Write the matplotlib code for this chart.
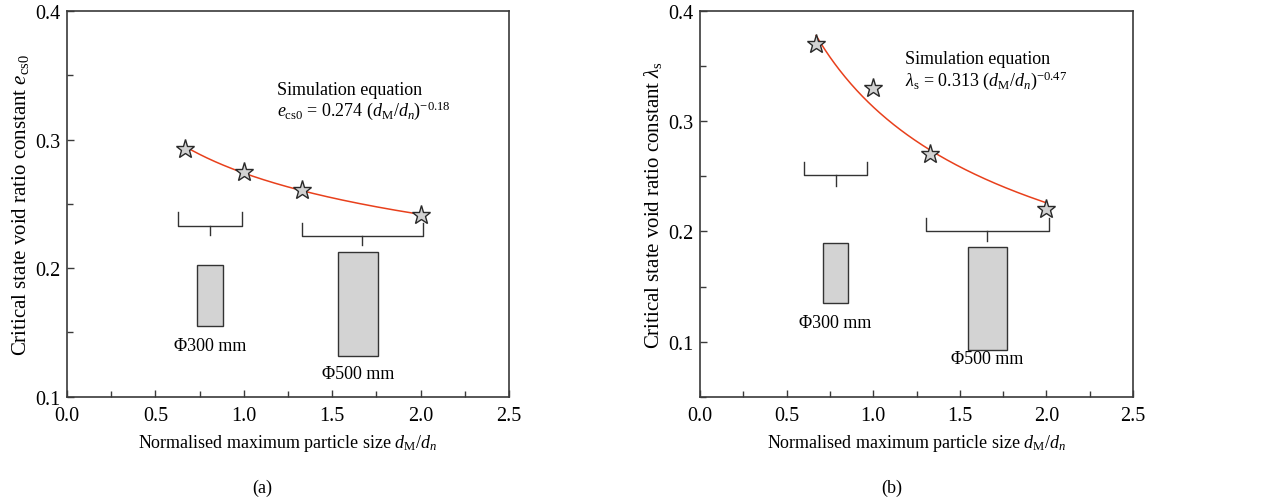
import numpy as np
import matplotlib

matplotlib.use("Agg")
import matplotlib.pyplot as plt
from matplotlib.patches import Rectangle
from matplotlib.ticker import MultipleLocator

plt.rcParams["font.family"] = ["Liberation Serif", "DejaVu Serif"]
plt.rcParams["mathtext.fontset"] = "custom"
plt.rcParams["mathtext.rm"] = "Liberation Serif"
plt.rcParams["mathtext.it"] = "Liberation Serif:italic"
plt.rcParams["mathtext.bf"] = "Liberation Serif:bold"

# measured data
ratio = [0.67, 1.0, 1.33, 2.0]
ecs0 = [0.293, 0.275, 0.261, 0.241]
lambda_s = [0.370, 0.330, 0.270, 0.220]

# fitted power laws  y = a * x**b
fit_a = [0.274, 0.313]
fit_b = [-0.18, -0.47]

# specimen sketches: bracket (x0, x1, y_top, y_bar, y_stem), box (x0, x1, y0, y1), label (x, y)
brackets_a = [(0.63, 0.99, 0.244, 0.233, 0.2255), (1.327, 2.012, 0.2353, 0.2249, 0.2184)]
boxes_a = [(0.737, 0.881, 0.1553, 0.2023), (1.535, 1.761, 0.1317, 0.2122)]
labels_a = [(0.81, 0.140), (1.644, 0.118)]

brackets_b = [(0.602, 0.964, 0.2633, 0.2512, 0.2415), (1.305, 2.013, 0.2118, 0.2006, 0.1912)]
boxes_b = [(0.712, 0.856, 0.135, 0.1897), (1.545, 1.773, 0.0924, 0.1861)]
labels_b = [(0.779, 0.1173), (1.655, 0.0848)]

specimen_names = ["\u03a6300 mm", "\u03a6500 mm"]

ylabels = [r"Critical state void ratio constant $e_{\mathrm{cs0}}$",
           r"Critical state void ratio constant $\lambda_{\mathrm{s}}$"]
equations = [r"$e_{\mathrm{cs0}}$ = 0.274 ($d_{\mathrm{M}}/d_n$)$^{-0.18}$",
             r"$\lambda_{\mathrm{s}}$ = 0.313 ($d_{\mathrm{M}}/d_n$)$^{-0.47}$"]
eq_pos = [(1.186, 0.339, 0.3236), (1.184, 0.3573, 0.3375)]
ylims = [(0.1, 0.4), (0.05, 0.4)]
captions = ["(a)", "(b)"]

spine_col = "#3a3a3a"
fig = plt.figure(figsize=(12.65, 5.02), dpi=100)
ax_a = fig.add_axes([0.0530, 0.2078, 0.3494, 0.768])
ax_b = fig.add_axes([0.5534, 0.2078, 0.3423, 0.768])

panels = [
    (ax_a, ecs0, brackets_a, boxes_a, labels_a),
    (ax_b, lambda_s, brackets_b, boxes_b, labels_b),
]

for i, (ax, yvals, brackets, boxes, labels) in enumerate(panels):
    xs = np.linspace(ratio[0], ratio[-1], 200)
    ax.plot(xs, fit_a[i] * xs ** fit_b[i], color="#e8401c", lw=1.1, zorder=2)
    ax.plot(ratio, yvals, ls="none", marker="*", ms=14, mfc="#d2d2d2",
            mec="#2a2a2a", mew=1.0, zorder=3)

    for x0, x1, yt, yb, ys in brackets:
        xm = (x0 + x1) / 2
        ax.plot([x0, x0, x1, x1], [yt, yb, yb, yt], color="#333333", lw=1.0)
        ax.plot([xm, xm], [yb, ys], color="#333333", lw=1.0)
    for (x0, x1, y0, y1), (lx, ly), name in zip(boxes, labels, specimen_names):
        ax.add_patch(Rectangle((x0, y0), x1 - x0, y1 - y0, facecolor="#d3d3d3",
                               edgecolor="#333333", lw=1.0))
        ax.text(lx, ly, name, ha="center", va="center", fontsize=13)

    ex, ey1, ey2 = eq_pos[i]
    ax.text(ex, ey1, "Simulation equation", ha="left", va="center", fontsize=13)
    ax.text(ex, ey2, equations[i], ha="left", va="center", fontsize=13)

    ax.set_xlim(0, 2.5)
    ax.set_ylim(*ylims[i])
    ax.xaxis.set_major_locator(MultipleLocator(0.5))
    ax.xaxis.set_minor_locator(MultipleLocator(0.25))
    ax.yaxis.set_major_locator(MultipleLocator(0.1))
    ax.yaxis.set_minor_locator(MultipleLocator(0.05))
    ax.xaxis.set_major_formatter(lambda v, p: f"{v:.1f}")
    ax.yaxis.set_major_formatter(lambda v, p: f"{v:.1f}")
    ax.tick_params(which="both", direction="in", top=False, right=False,
                   color=spine_col, labelsize=14.5)
    ax.tick_params(axis="x", which="both", pad=7)
    ax.tick_params(axis="y", which="both", pad=5)
    ax.tick_params(which="major", length=5, width=1.0)
    ax.tick_params(which="minor", length=4, width=1.0)
    for sp in ax.spines.values():
        sp.set_color(spine_col)
        sp.set_linewidth(1.2)

    ax.set_xlabel(r"Normalised maximum particle size $d_{\mathrm{M}}/d_n$", fontsize=13, labelpad=5)
    ax.set_ylabel(ylabels[i], fontsize=15, labelpad=3)

fig.text(0.2073, 0.028, captions[0], ha="center", va="center", fontsize=13)
fig.text(0.7051, 0.028, captions[1], ha="center", va="center", fontsize=13)

fig.savefig("out.png", dpi=100)
